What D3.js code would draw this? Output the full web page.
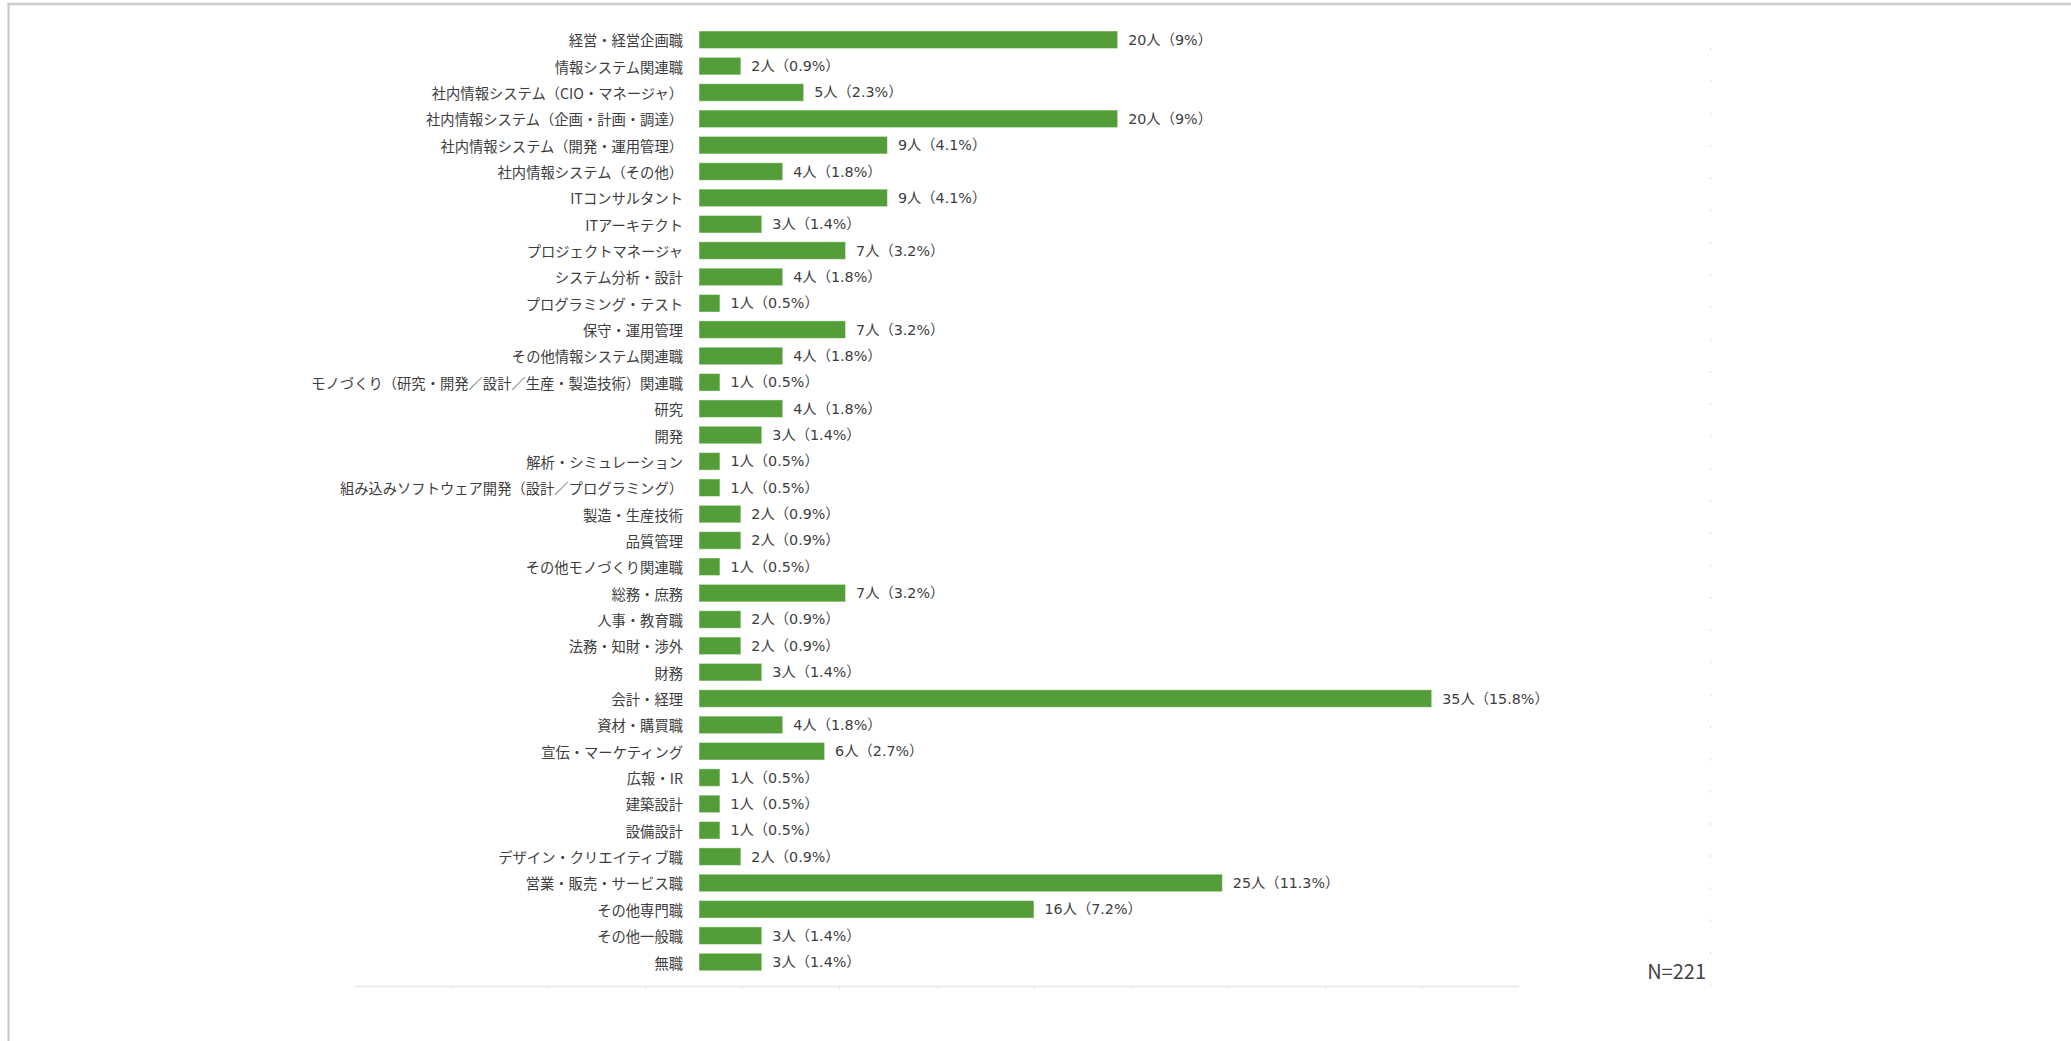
<!DOCTYPE html>
<html>
<head>
<meta charset="utf-8">
<script src="https://cdn.jsdelivr.net/npm/d3@7"></script>
<style>
  html, body { margin: 0; padding: 0; background: #ffffff; }
  svg { display: block; }
</style>
</head>
<body>
<svg id="chart" width="2071" height="1041"></svg>
<script>
const categories = [
  "経営・経営企画職",
  "情報システム関連職",
  "社内情報システム（CIO・マネージャ）",
  "社内情報システム（企画・計画・調達）",
  "社内情報システム（開発・運用管理）",
  "社内情報システム（その他）",
  "ITコンサルタント",
  "ITアーキテクト",
  "プロジェクトマネージャ",
  "システム分析・設計",
  "プログラミング・テスト",
  "保守・運用管理",
  "その他情報システム関連職",
  "モノづくり（研究・開発／設計／生産・製造技術）関連職",
  "研究",
  "開発",
  "解析・シミュレーション",
  "組み込みソフトウェア開発（設計／プログラミング）",
  "製造・生産技術",
  "品質管理",
  "その他モノづくり関連職",
  "総務・庶務",
  "人事・教育職",
  "法務・知財・渉外",
  "財務",
  "会計・経理",
  "資材・購買職",
  "宣伝・マーケティング",
  "広報・IR",
  "建築設計",
  "設備設計",
  "デザイン・クリエイティブ職",
  "営業・販売・サービス職",
  "その他専門職",
  "その他一般職",
  "無職"
];
const counts = [20, 2, 5, 20, 9, 4, 9, 3, 7, 4, 1, 7, 4, 1, 4, 3, 1, 1, 2, 2, 1, 7, 2, 2, 3, 35, 4, 6, 1, 1, 1, 2, 25, 16, 3, 3];
const percents = ["9", "0.9", "2.3", "9", "4.1", "1.8", "4.1", "1.4", "3.2", "1.8", "0.5", "3.2", "1.8", "0.5", "1.8", "1.4", "0.5", "0.5", "0.9", "0.9", "0.5", "3.2", "0.9", "0.9", "1.4", "15.8", "1.8", "2.7", "0.5", "0.5", "0.5", "0.9", "11.3", "7.2", "1.4", "1.4"];
const totalLabel = "N=221";

const svg = d3.select("#chart");
const font = "'Noto Sans CJK JP', 'Noto Sans', sans-serif";
const valueFont = "'DejaVu Sans', 'Noto Sans CJK JP', sans-serif";
const textColor = "#3d3d3d";
const barColor = "#539e39";

// frame
svg.append("line").attr("x1", 7.5).attr("x2", 2071).attr("y1", 4).attr("y2", 4)
  .attr("stroke", "#cccccc").attr("stroke-width", 2.5);
svg.append("line").attr("x1", 8.5).attr("x2", 8.5).attr("y1", 3).attr("y2", 1041)
  .attr("stroke", "#c6c6c6").attr("stroke-width", 2);

const x = d3.scaleLinear().domain([0, 35]).range([699, 1431.7]);
const y = d3.scaleBand().domain(categories).range([26.6, 975.2])
  .paddingInner(0.335).paddingOuter(0.1675);

// bottom axis line with faint ticks
const axisScale = d3.scaleLinear().domain([0, 12]).range([354, 1519]);
const axisG = svg.append("g").attr("transform", "translate(0,986.5)");
axisG.append("line").attr("x1", axisScale(0)).attr("x2", axisScale(12))
  .attr("stroke", "#e6e6e6").attr("stroke-width", 1.5);
axisG.selectAll("line.tick").data(d3.range(1, 12)).join("line")
  .attr("class", "tick")
  .attr("x1", d => Math.round(axisScale(d)) + 0.5).attr("x2", d => Math.round(axisScale(d)) + 0.5)
  .attr("y1", 0).attr("y2", 4)
  .attr("stroke", "#ececec").attr("stroke-width", 1);

// faint right-side marks
const sideScale = d3.scaleLinear().domain([0, 29]).range([49, 985.3]);
svg.selectAll("rect.side").data(d3.range(0, 30)).join("rect")
  .attr("class", "side")
  .attr("x", 1710).attr("width", 1)
  .attr("y", d => sideScale(d) - 1).attr("height", 2)
  .attr("fill", "#d4d4d4");

// bars
svg.selectAll("rect.bar").data(categories).join("rect")
  .attr("class", "bar")
  .attr("x", x(0))
  .attr("y", d => y(d))
  .attr("width", (d, i) => x(counts[i]) - x(0))
  .attr("height", y.bandwidth())
  .attr("fill", barColor)
  .attr("stroke", "rgba(255,255,255,0.45)")
  .attr("stroke-width", 1);

// category labels
svg.selectAll("text.cat").data(categories).join("text")
  .attr("class", "cat")
  .attr("x", x(0) - 16)
  .attr("y", d => y(d) + y.bandwidth() / 2)
  .attr("text-anchor", "end")
  .attr("dominant-baseline", "central")
  .attr("font-family", font)
  .attr("font-size", "14.3px")
  .attr("fill", textColor)
  .text(d => d);

// value labels
svg.selectAll("text.val").data(categories).join("text")
  .attr("class", "val")
  .attr("x", (d, i) => x(counts[i]) + 10.5)
  .attr("y", d => y(d) + y.bandwidth() / 2 + 5)
  .attr("font-family", valueFont)
  .attr("font-size", "14.3px")
  .attr("fill", textColor)
  .text((d, i) => counts[i] + "人（" + percents[i] + "%）");

// N label
svg.append("text")
  .attr("x", 1706).attr("y", 978.5)
  .attr("text-anchor", "end")
  .attr("font-family", font)
  .attr("font-size", "20px")
  .attr("fill", "#444444")
  .text(totalLabel);
</script>
</body>
</html>
